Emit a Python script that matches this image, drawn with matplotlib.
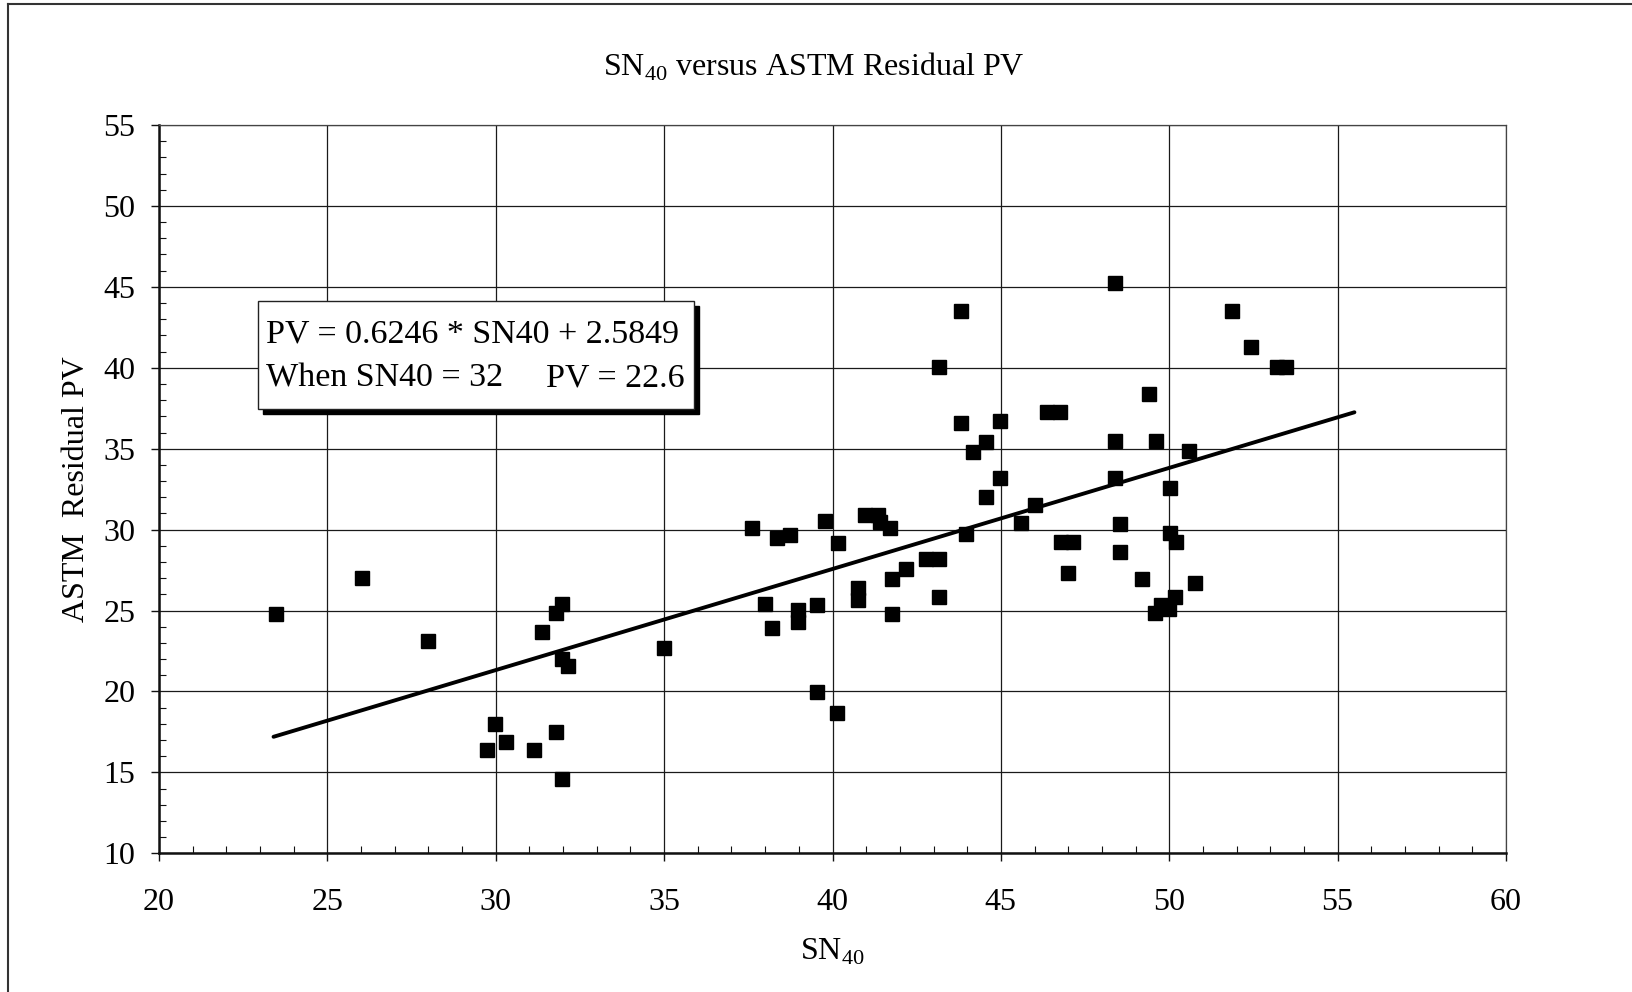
import matplotlib
matplotlib.use("Agg")
import matplotlib.pyplot as plt
from matplotlib.patches import Rectangle
from matplotlib.lines import Line2D
from matplotlib.ticker import MultipleLocator

plt.rcParams['font.family'] = ['Liberation Serif', 'DejaVu Serif']
plt.rcParams['mathtext.fontset'] = 'custom'
plt.rcParams['mathtext.rm'] = 'Liberation Serif'

# data
sn40 = [23.47, 26.04, 28.0, 29.75, 29.98, 30.31, 31.13, 31.37, 31.78, 31.98,
        31.79, 31.96, 31.96, 32.14, 34.99,
        37.6, 38.36, 38.74, 39.78, 40.15, 40.97, 41.36, 41.4, 41.72, 42.19,
        41.76, 42.77, 43.17, 40.77, 40.77, 43.17, 38.0, 38.2, 38.99, 38.99,
        39.55, 41.76, 39.55, 40.13, 43.96, 43.17, 43.82, 43.81, 44.98, 44.55,
        44.16, 44.98, 44.55, 46.02, 45.59, 46.38, 46.77,
        48.4, 51.85, 52.42, 53.2, 53.46, 49.4, 48.4, 49.61, 50.6, 48.4,
        50.02, 48.55, 50.02, 50.2, 46.78, 47.15, 48.55, 46.99, 49.19, 50.76,
        50.18, 49.77, 49.99, 49.59]
pv = [24.8, 27.0, 23.1, 16.4, 18.0, 16.9, 16.4, 23.7, 24.85, 25.4,
      17.5, 14.6, 22.0, 21.6, 22.7,
      30.1, 29.5, 29.67, 30.56, 29.2, 30.9, 30.9, 30.5, 30.1, 27.57,
      26.95, 28.17, 28.17, 26.4, 25.65, 25.86, 25.4, 23.94, 25.04, 24.3,
      25.37, 24.78, 19.99, 18.65, 29.7, 40.07, 43.5, 36.6, 36.7, 35.4,
      34.8, 33.2, 32.0, 31.5, 30.4, 37.25, 37.25,
      45.23, 43.52, 41.27, 40.04, 40.04, 38.39, 35.48, 35.48, 34.86, 33.21,
      32.56, 30.35, 29.78, 29.26, 29.26, 29.26, 28.64, 27.34, 26.93, 26.72,
      25.86, 25.35, 25.08, 24.83]

# regression line end points
fit_x = [23.4, 55.5]
fit_y = [17.2, 37.25]

eq_line1 = "PV = 0.6246 * SN40 + 2.5849"
eq_line2a = "When SN40 = 32"
eq_line2b = "PV = 22.6"

fig = plt.figure(figsize=(16.33, 9.92), dpi=100)
ax = fig.add_axes([0.0974, 0.1398, 0.8248, 0.7342])

ax.set_xlim(20, 60)
ax.set_ylim(10, 55)
ax.xaxis.set_major_locator(MultipleLocator(5))
ax.yaxis.set_major_locator(MultipleLocator(5))
ax.xaxis.set_minor_locator(MultipleLocator(1))
ax.yaxis.set_minor_locator(MultipleLocator(1))
ax.grid(True, which='major', color='#1a1a1a', linewidth=0.9)
ax.set_axisbelow(True)

ax.tick_params(which='major', direction='out', length=6, width=1,
               labelsize=23, color='#111')
ax.tick_params(axis='x', which='major', pad=19)
ax.tick_params(axis='y', which='major', pad=11)
ax.tick_params(which='minor', direction='in', length=5, width=0.8, color='#111')

for side in ['left', 'bottom']:
    ax.spines[side].set_linewidth(1.8)
    ax.spines[side].set_color('#111')
for side in ['top', 'right']:
    ax.spines[side].set_linewidth(0.9)
    ax.spines[side].set_color('#444')

ax.plot(fit_x, fit_y, color='black', linewidth=2.8, solid_capstyle='round', zorder=3)
ax.plot(sn40, pv, linestyle='none', marker='s', markersize=9.7,
        color='black', zorder=4)

# equation box with drop shadow
bx, by, bw, bh = 22.94, 37.44, 12.95, 6.69
ax.add_patch(Rectangle((bx + 0.15, by - 0.32), bw, bh, facecolor='black',
                       edgecolor='black', zorder=5))
ax.add_patch(Rectangle((bx, by), bw, bh, facecolor='white',
                       edgecolor='#222', linewidth=1.0, zorder=6))
ax.text(23.17, 42.1, eq_line1, fontsize=24.5, va='center', ha='left', zorder=7)
ax.text(23.17, 39.35, eq_line2a, fontsize=24.5, va='center', ha='left', zorder=7)
ax.text(31.49, 39.35, eq_line2b, fontsize=24.5, va='center', ha='left', zorder=7)

ax.set_xlabel(r"SN$_{\mathrm{40}}$", fontsize=23, labelpad=14)
ax.set_ylabel("ASTM  Residual PV", fontsize=23, labelpad=9)
fig.text(814 / 1633, 1 - 67 / 992, r"SN$_{\mathrm{40}}$ versus ASTM Residual PV",
         fontsize=23, ha='center', va='center')

# page frame of the scanned chart
fig.add_artist(Line2D([8 / 1633, 8 / 1633], [0, 1 - 4 / 992],
                      transform=fig.transFigure, color='#333', linewidth=1.5))
fig.add_artist(Line2D([8 / 1633, 1], [1 - 4 / 992, 1 - 4 / 992],
                      transform=fig.transFigure, color='#333', linewidth=1.5))

fig.savefig("out.png", dpi=100)
